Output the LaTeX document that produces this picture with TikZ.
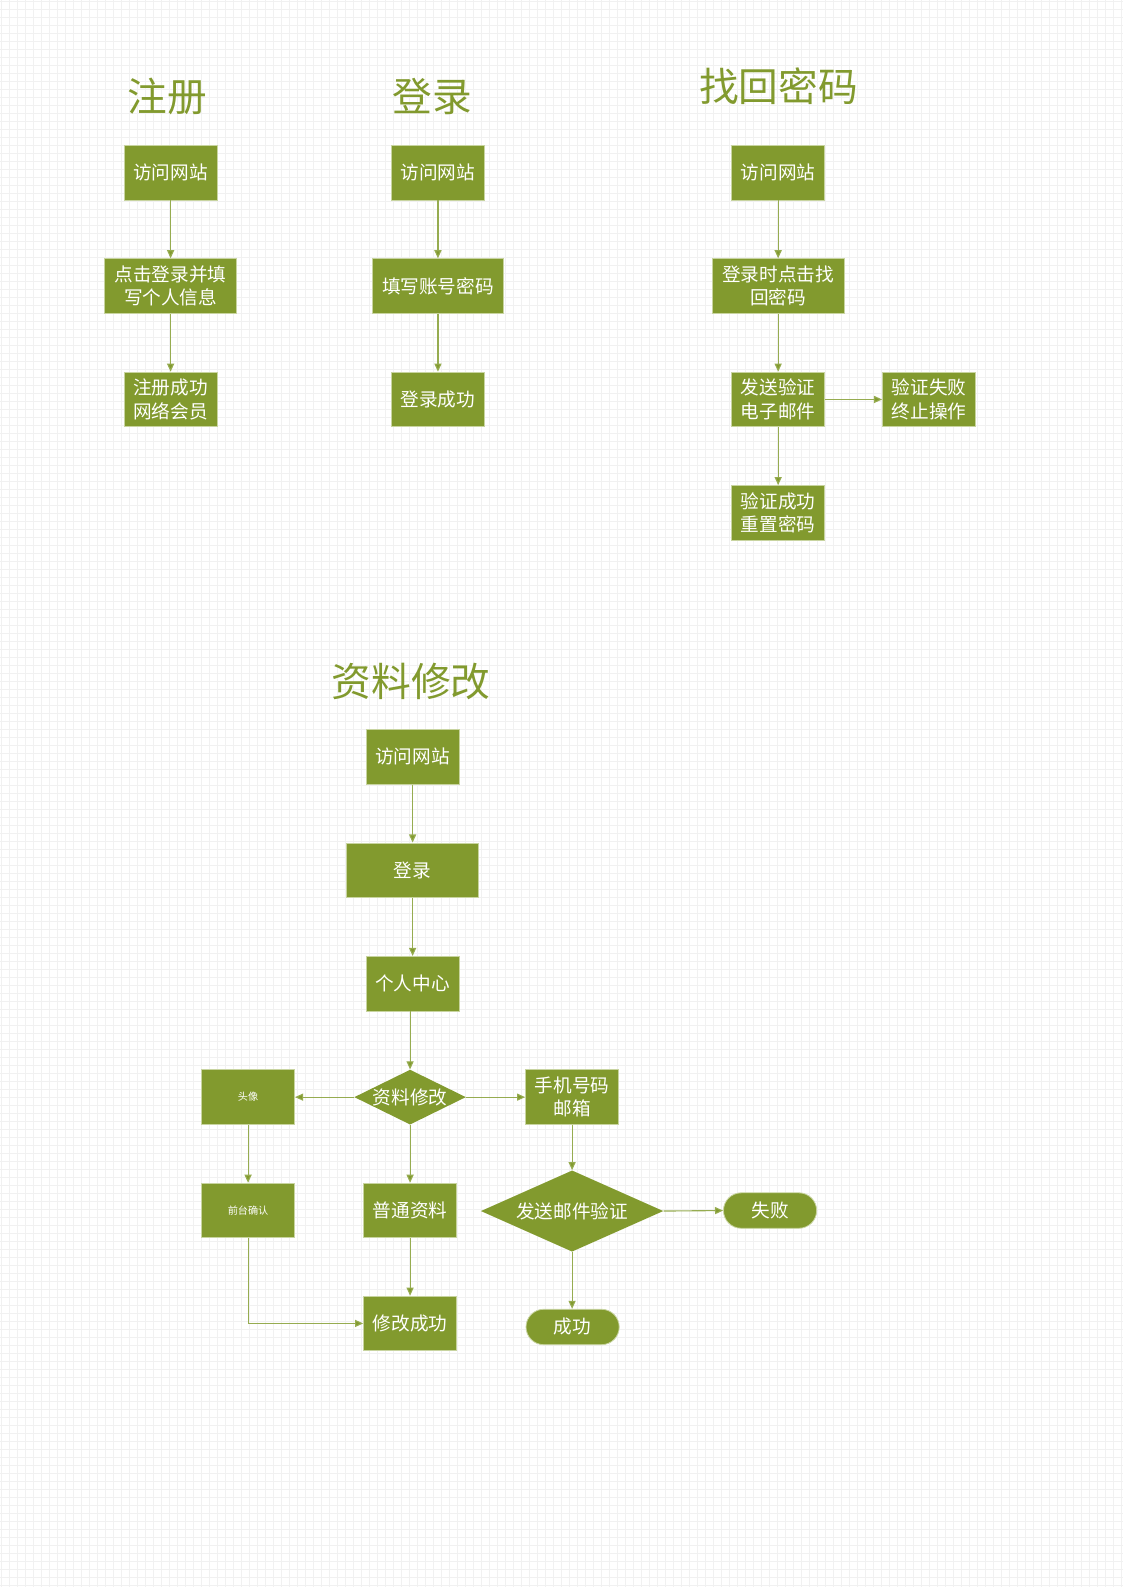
\documentclass[tikz,border=0pt]{standalone}
\usepackage{fontspec}
\newfontfamily\cjk{Noto Sans CJK SC}
\usetikzlibrary{arrows.meta}
\definecolor{olive}{RGB}{130,154,46}
\definecolor{oliveline}{RGB}{150,172,80}
\definecolor{edgec}{RGB}{200,212,160}
\definecolor{gridc}{RGB}{241,241,241}
\tikzset{
  box/.style={fill=olive,draw=edgec,line width=0.4pt,text=white,inner sep=0pt,
    minimum width=46pt,minimum height=27pt,align=center,
    font=\cjk\fontsize{9.2}{11.5}\selectfont},
  widebox/.style={box,minimum width=65pt},
  smallbox/.style={box,font=\cjk\fontsize{5}{6}\selectfont},
  pill/.style={box,rounded corners=8.75pt,minimum height=17.5pt},
  dia/.style={text=white,inner sep=0pt,align=center,font=\cjk\fontsize{9.2}{11.5}\selectfont,
    path picture={\fill[olive] (path picture bounding box.north) -- (path picture bounding box.east)
      -- (path picture bounding box.south) -- (path picture bounding box.west) -- cycle;}},
  ttl/.style={text=olive,inner sep=0pt,font=\cjk\fontsize{19.6}{22}\selectfont},
  conn/.style={draw=oliveline,line width=0.55pt,-{Triangle[length=4pt,width=3.5pt,fill=olive]}},
}
\begin{document}
\begin{tikzpicture}[x=0.5pt,y=-0.5pt]
\useasboundingbox (0,0) rectangle (1109.1,1567.3);
\fill[white] (0,0) rectangle (1109.1,1567.3);
\foreach \i in {0,1,...,140} \draw[gridc,line width=0.45pt] (1.5+7.9*\i,0) -- (1.5+7.9*\i,1567.3);
\foreach \j in {0,1,...,198} \draw[gridc,line width=0.45pt] (0,1.5+7.9*\j) -- (1109.1,1.5+7.9*\j);

% titles
\node[ttl] (t1) at (165,95) {注册};
\node[ttl] (t2) at (427,95) {登录};
\node[ttl] (t3) at (769,85) {找回密码};
\node[ttl] (t4) at (406,673) {资料修改};

% register
\node[box] (a1) at (168.5,170.5) {访问网站};
\node[widebox] (a2) at (168.5,282.5) {点击登录并填\\写个人信息};
\node[box] (a3) at (168.5,394.5) {注册成功\\网络会员};
\draw[conn] (a1) -- (a2);
\draw[conn] (a2) -- (a3);

% login
\node[box] (b1) at (432.5,170.5) {访问网站};
\node[widebox] (b2) at (432.5,282.5) {填写账号密码};
\node[box] (b3) at (432.5,394.5) {登录成功};
\draw[conn] (b1) -- (b2);
\draw[conn] (b2) -- (b3);

% password recovery
\node[box] (c1) at (768.5,170.5) {访问网站};
\node[widebox] (c2) at (768.5,282.5) {登录时点击找\\回密码};
\node[box] (c3) at (768.5,394.5) {发送验证\\电子邮件};
\node[box] (c4) at (917.5,394.5) {验证失败\\终止操作};
\node[box] (c5) at (768.5,506.5) {验证成功\\重置密码};
\draw[conn] (c1) -- (c2);
\draw[conn] (c2) -- (c3);
\draw[conn] (c3) -- (c4);
\draw[conn] (c3) -- (c5);

% profile edit
\node[box] (d1) at (407.5,747.5) {访问网站};
\node[widebox] (d2) at (407.5,859.5) {登录};
\node[box] (d3) at (407.5,971.5) {个人中心};
\node[dia,minimum width=55pt,minimum height=27pt] (d4) at (405,1083.5) {资料修改};
\node[smallbox] (d5) at (245,1083.5) {头像};
\node[box] (d6) at (565,1083.5) {手机号码\\邮箱};
\node[smallbox] (d7) at (245,1195.5) {前台确认};
\node[box] (d8) at (405,1195.5) {普通资料};
\node[dia,minimum width=90pt,minimum height=40pt] (d9) at (565,1196) {发送邮件验证};
\node[pill] (d10) at (760.5,1195.5) {失败};
\node[box] (d11) at (405,1307) {修改成功};
\node[pill] (d12) at (565.5,1310.5) {成功};
\coordinate (k1) at (245,1307);

\draw[conn] (d1) -- (d2);
\draw[conn] (d2) -- (d3);
\draw[conn] (d4.north |- d3.south) -- (d4.north);
\draw[conn] (d4.west) -- (d5.east);
\draw[conn] (d4.east) -- (d6.west);
\draw[conn] (d5) -- (d7);
\draw[conn] (d4) -- (d8);
\draw[conn] (d8) -- (d11);
\draw[conn] (d7.south) -- (k1) -- (d11.west);
\draw[conn] (d6.south -| d9.north) -- (d9.north);
\draw[conn] (d9.east) -- (d10.west);
\draw[conn] (d9.south) -- (d12.north -| d9.south);
\end{tikzpicture}
\end{document}
